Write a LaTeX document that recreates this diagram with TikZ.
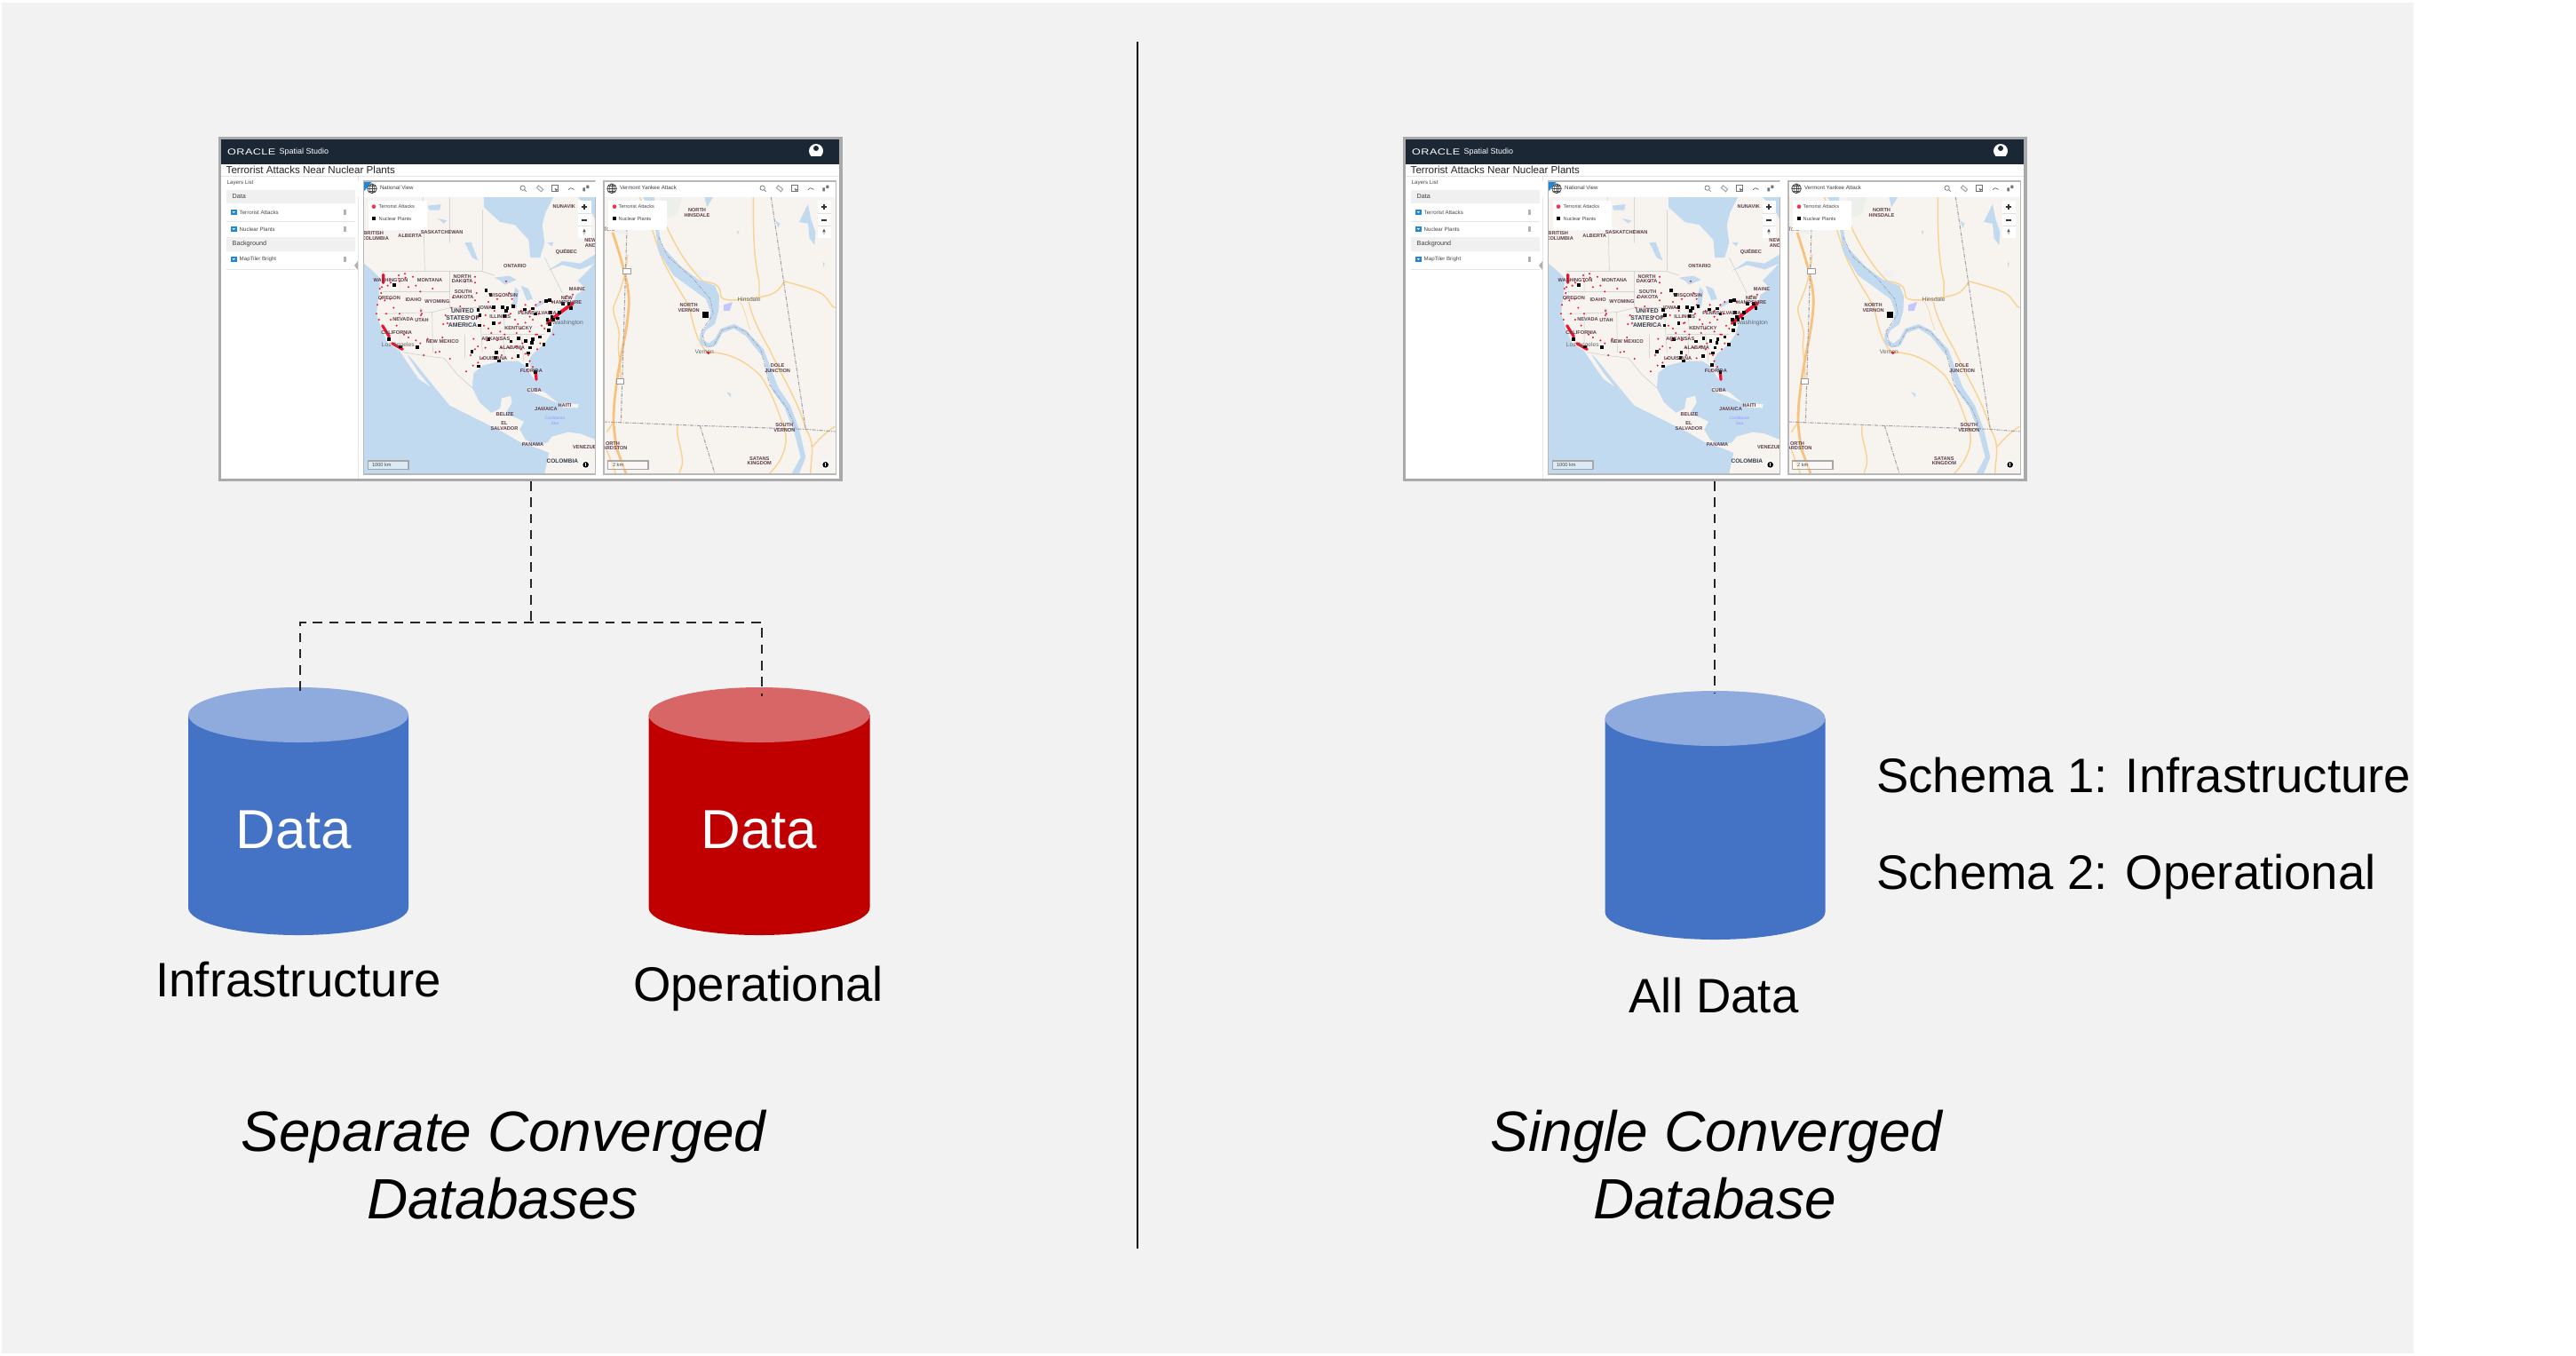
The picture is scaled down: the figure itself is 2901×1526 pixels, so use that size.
\documentclass[tikz,border=0pt]{standalone}
\usepackage{fontspec}
\setmainfont{Liberation Sans}
\newfontfamily\logofont[FakeStretch=1.3,LetterSpace=5]{Liberation Sans}
\definecolor{panelgray}{HTML}{F2F2F2}
\definecolor{dbblue}{HTML}{4472C4}
\definecolor{dbbluetop}{HTML}{8FAADC}
\definecolor{dbred}{HTML}{C00000}
\definecolor{dbredtop}{HTML}{D86666}
\definecolor{framegray}{HTML}{A9A9A9}
\definecolor{barnavy}{HTML}{1B2735}
\definecolor{water}{HTML}{C1DAF0}
\definecolor{land}{HTML}{F7F4EF}
\definecolor{maplbl}{HTML}{5C3B48}
\definecolor{maplblb}{HTML}{343B4E}
\definecolor{roadc}{HTML}{FAD394}
\definecolor{roadd}{HTML}{F8C27E}
\definecolor{borderc}{HTML}{A6A0AE}
\definecolor{dotred}{HTML}{F01030}
\definecolor{uiblue}{HTML}{1E88D8}
\newcounter{autolbl}
\newcommand{\ml}[4][maplabel]{\stepcounter{autolbl}\node[#1] (lbl\theautolbl) at (#2,#3) {#4};}
\newcommand{\uitext}[4][uilabel]{\stepcounter{autolbl}\node[#1,anchor=west] (lbl\theautolbl) at (#2,#3) {#4};}
\tikzset{
  x=0.01cm,y=-0.01cm,
  bigtext/.style={font=\fontsize{15.5}{18}\selectfont,text=black,inner sep=0pt,anchor=base},
  datatext/.style={font=\fontsize{17.6}{20}\selectfont,text=white,inner sep=0pt,anchor=base},
  captext/.style={font=\fontsize{18.2}{21}\selectfont\itshape,text=black,inner sep=0pt,anchor=base},
  conn/.style={draw=black!85,line width=0.65pt,dash pattern=on 3pt off 2.2pt},
  maplabel/.style={font=\fontsize{1.6}{1.9}\selectfont\bfseries,text=maplbl,inner sep=0pt},
  bigmaplabel/.style={font=\fontsize{1.95}{2.3}\selectfont\bfseries,text=maplblb,inner sep=0pt,align=center},
  citylabel/.style={font=\fontsize{1.9}{2.2}\selectfont,text=black!60,inner sep=0pt},
  seamap/.style={font=\fontsize{1.4}{1.8}\selectfont,text=white!60!blue,inner sep=0pt,align=center},
  uilabel/.style={font=\fontsize{1.6}{1.9}\selectfont,text=black!72,inner sep=0pt},
  uisidebar/.style={font=\fontsize{1.75}{2.1}\selectfont,text=black!72,inner sep=0pt},
  uititle/.style={font=\fontsize{1.75}{2.1}\selectfont,text=black!75,inner sep=0pt},
  uihead/.style={font=\fontsize{2.05}{2.5}\selectfont,text=black!75,inner sep=0pt},
  thinroad/.style={draw=roadc,line width=0.42pt},
  mainroad/.style={draw=roadd,line width=0.8pt},
  stateline/.style={draw=black!22,line width=0.14pt},
  bline/.style={draw=borderc,line width=0.3pt,dash pattern=on 1.2pt off .4pt on .3pt off .4pt},
}
% cylinder: centre x, top y, bottom y, half width, half height, body, lid
\newcommand{\dbcyl}[7]{
  \fill[#6] (#1-#4,#2+#5) -- (#1-#4,#3-#5) arc[start angle=180,end angle=360,x radius=#4,y radius=-#5] -- (#1+#4,#2+#5) -- cycle;
  \fill[#7] (#1,#2+#5) ellipse[x radius=#4,y radius=#5];
}
% small globe, tool icons and zoom controls shared by both map panes (pane coordinates)
\newcommand{\mapchrome}[2]{
  \fill[white] (0,42) rectangle (812,95);
  \fill[white] (44,108) rectangle (244,206);
  \draw[black!70,line width=.22pt] (57,67) circle[radius=16];
  \draw[black!70,line width=.14pt] (57,51) -- (57,83) (41,67) -- (73,67) (44,59) -- (70,59) (44,75) -- (70,75);
  \draw[black!70,line width=.14pt] (57,67) ellipse[x radius=8,y radius=16];
  \uitext[uititle]{82}{65}{#1}
  \draw[black!55,line width=.2pt] (566,65) circle[radius=8] (572,71) -- (578,77);
  \draw[black!35,line width=.3pt,rotate around={-40:(624,67)}] (614,62) rectangle (634,72);
  \draw[black!55,line width=.2pt] (664,56) rectangle (684,76);
  \fill[black!60] (674,66) -- (684,70) -- (678,76) -- cycle;
  \draw[black!60,line width=.2pt] (720,71) -- (728,65) -- (740,70);
  \fill[black!55] (769,64) rectangle (777,76) (781,56) rectangle (790,66);
  \fill[dotred!85!white] (#2,128) circle[radius=7];
  \uitext{78}{128}{Terrorist Attacks}
  \fill[black] (#2-6,162) rectangle (#2+6,174);
  \uitext{78}{168}{Nuclear Plants}
  \fill[white] (753,108) rectangle (797,235);
  \draw[black!12,line width=.12pt] (753,152) -- (797,152) (753,193) -- (797,193);
  \draw[black!80,line width=.5pt] (765,129) -- (783,129) (774,120) -- (774,138) (765,173) -- (783,173);
  \fill[black!70] (774,203) -- (779,214) -- (769,214) -- cycle;
  \fill[black!20] (774,225) -- (779,214) -- (769,214) -- cycle;
  \draw[black!35,fill=white,fill opacity=.45,line width=.35pt] (44,987) rectangle (180,1016);
  \fill[white] (779,1000) circle[radius=15];
  \fill[black] (779,1000) circle[radius=10];
  \fill[white] (777.5,994) rectangle (780.5,1006);
}
% national map
\newcommand{\nationalmap}{
  \begin{scope}[shift={(400,190)},scale=0.3333]
    \begin{scope}
      \clip (30,95) rectangle (810,1030);
      \fill[water] (30,95) rectangle (810,1030);
      \fill[land] (30,95) -- (810,95) -- (810,318) -- (780,350) -- (752,378) -- (778,405) -- (746,425) -- (735,460) -- (700,490) -- (672,520) -- (660,560) -- (640,590) -- (600,625) -- (585,650) -- (600,690) -- (612,716) -- (598,702) -- (575,665) -- (550,650) -- (490,650) -- (430,665) -- (400,690) -- (395,740) -- (420,790) -- (460,825) -- (490,810) -- (495,775) -- (525,768) -- (530,790) -- (505,830) -- (540,840) -- (570,855) -- (555,880) -- (575,915) -- (610,935) -- (650,925) -- (665,905) -- (720,890) -- (760,895) -- (810,915) -- (810,1030) -- (640,1030) -- (655,960) -- (620,945) -- (560,925) -- (500,890) -- (440,860) -- (370,825) -- (320,800) -- (270,740) -- (230,690) -- (190,640) -- (172,625) -- (215,690) -- (252,735) -- (215,710) -- (180,660) -- (150,615) -- (110,590) -- (90,545) -- (72,490) -- (80,430) -- (85,370) -- (60,345) -- (30,320) -- cycle;
      \fill[water] (435,95) -- (670,95) -- (642,150) -- (632,190) -- (640,250) -- (625,300) -- (592,300) -- (586,240) -- (540,190) -- (490,180) -- (435,130) -- cycle;
      \fill[water] (810,95) -- (750,95) -- (790,130) -- (810,170) -- cycle;
      \fill[water] (650,345) -- (700,325) -- (760,340) -- (810,320) -- (810,290) -- (760,320) -- (700,312) -- cycle;
      \fill[water] (370,250) -- (392,248) -- (415,310) -- (395,300) -- cycle;
      \fill[water] (245,125) -- (290,120) -- (285,140) -- (250,140) -- cycle;
      \fill[water] (278,168) -- (310,175) -- (300,185) -- cycle;
      \fill[water] (470,368) -- (520,362) -- (545,375) -- (505,392) -- (490,378) -- cycle;
      \fill[water] (540,400) -- (553,412) -- (545,470) -- (530,465) -- cycle;
      \fill[water] (560,395) -- (585,405) -- (600,440) -- (580,445) -- cycle;
      \fill[water] (605,460) -- (645,440) -- (650,448) -- (610,470) -- cycle;
      \fill[water] (650,250) -- (670,248) -- (665,262) -- cycle;
      \fill[water] (218,470) -- (228,475) -- (224,495) -- cycle;
      \fill[land] (580,738) -- (640,755) -- (685,792) -- (640,772) -- (590,752) -- cycle;
      \fill[land] (690,792) -- (755,795) -- (752,808) -- (700,806) -- cycle;
      \fill[land] (620,805) -- (650,808) -- (640,815) -- cycle;
      \draw[stateline] (90,347) -- (430,347) -- (470,360) (160,620) -- (235,632) -- (300,640) -- (345,695) -- (395,740);
      \draw[stateline] (92,415) -- (320,415) (320,347) -- (320,470) -- (260,485) -- (95,490) (150,490) -- (150,590) (260,485) -- (262,620) (370,560) -- (370,640) (320,470) -- (420,470) (400,540) -- (530,540) (420,470) -- (430,620) (430,560) -- (640,560) (500,470) -- (505,540) (500,560) -- (505,650) (560,560) -- (570,650) (150,350) -- (150,415) (430,140) -- (430,347) (230,95) -- (235,347) (320,95) -- (320,250) (640,300) -- (700,420);
      \draw[dotred,line width=.9pt,line cap=round] (95,358) -- (95,385) (92,530) -- (115,567) (125,590) -- (160,610) (610,690) -- (612,712);
      \draw[dotred,line width=1.1pt,line cap=round] (650,522) -- (690,488) -- (735,455);
      \foreach \p in {(83,405),(88,420),(85,440),(75,460),(72,490),(80,510),(90,400),(110,395),(120,385),(147,360),(168,355),(170,368),(195,365),(150,380),(180,400),(205,395),(220,415),(262,405),(100,445),(118,440),(130,470),(150,490),(105,490),(120,510),(140,530),(165,560),(180,570),(205,580),(220,590),(232,630),(272,620),(285,618),(320,642),(295,570),(245,575),(222,480),(222,495),(225,490),(330,435),(325,470),(305,495),(298,525),(312,522),(385,500),(355,465),(365,480),(405,365),(405,385),(372,380),(410,420),(405,445),(415,500),(450,450),(440,495),(490,430),(495,470),(480,440),(470,480),(490,520),(486,522),(435,530),(450,540),(462,470),(520,420),(510,380),(530,440),(525,490),(540,510),(550,525),(560,540),(575,520),(590,500),(575,460),(590,480),(620,490),(630,530),(615,560),(590,550),(545,555),(505,560),(490,550),(460,555),(445,580),(480,580),(400,575),(415,600),(405,610),(390,630),(440,605),(430,640),(415,655),(398,665),(375,685),(495,605),(520,605),(545,600),(565,590),(560,610),(575,625),(610,560),(640,540),(670,560),(665,450),(715,430),(735,425),(610,460),(625,450),(600,510),(560,480),(530,460),(495,630),(530,640),(590,650),(580,680),(600,670),(585,630),(625,590),(615,610)}
        {\fill[dotred] \p circle[radius=3.4];}
      \foreach \p in {(131,392),(443,411),(458,425),(416,477),(422,495),(421,529),(469,521),(469,467),(498,467),(515,470),(535,465),(510,480),(505,498),(452,575),(553,572),(577,582),(601,575),(527,583),(625,568),(638,594),(598,588),(592,605),(585,623),(551,634),(581,664),(610,688),(478,622),(395,618),(417,668),(486,650),(475,640),(113,575),(153,602),(210,603),(573,475),(600,472),(610,490),(645,447),(657,443),(660,485),(665,500),(658,525),(654,546),(685,505),(702,456),(730,470),(690,485),(722,455),(670,510),(650,510)}
        {\fill[black] \p ++(-5.5,-5.5) rectangle ++(11,11);}
      \ml{120}{378}{WASHINGTON}\ml{252}{377}{MONTANA}\ml{362}{364}{NORTH}\ml{362}{381}{DAKOTA}
      \ml{62}{218}{BRITISH}\ml{68}{236}{COLUMBIA}\ml{185}{227}{ALBERTA}\ml{293}{216}{SASKATCHEWAN}
      \ml{540}{328}{ONTARIO}\ml{714}{280}{QUÉBEC}\ml{706}{127}{NUNAVIK}
      \ml{365}{416}{SOUTH}\ml{365}{433}{DAKOTA}\ml{115}{437}{OREGON}\ml{197}{442}{IDAHO}\ml{277}{450}{WYOMING}
      \ml{162}{510}{NEVADA}\ml{225}{511}{UTAH}\ml{140}{554}{CALIFORNIA}\ml{295}{585}{NEW MEXICO}
      \ml{475}{575}{ARKANSAS}\ml{530}{605}{ALABAMA}\ml{467}{640}{LOUISIANA}\ml{552}{540}{KENTUCKY}
      \ml{490}{500}{ILLINOIS}\ml{500}{428}{WISCONSIN}\ml{440}{470}{IOWA}\ml{615}{487}{PENNSYLVANIA}
      \ml{750}{406}{MAINE}\ml{715}{437}{NEW}\ml{715}{453}{HAMPSHIRE}\ml{595}{683}{FLORIDA}
      \ml{605}{748}{CUBA}\ml{645}{812}{JAMAICA}\ml{708}{800}{HAITI}\ml{506}{829}{BELIZE}\ml{504}{859}{EL}\ml{504}{877}{SALVADOR}\ml{600}{933}{PANAMA}\ml{775}{940}{VENEZUE}
      \ml{795}{243}{NEW}\ml{795}{260}{AND}
      \ml[seamap]{675}{852}{Caribbean\\Sea}
      \ml[bigmaplabel]{363}{505}{UNITED\\STATES OF\\AMERICA}
      \ml[citylabel]{145}{595}{Los Angeles}\ml[citylabel]{718}{521}{Washington}
      \ml[font=\fontsize{1.85}{2.2}\selectfont\bfseries,text=maplblb,inner sep=0pt]{700}{988}{COLOMBIA}
    \end{scope}
    \mapchrome{National View}{63}
    \uitext[uilabel]{55}{1000}{1000 km}
    \fill[uiblue] (28,42) -- (58,42) -- (32,74) -- (28,74) -- cycle;
    \draw[black!28,line width=.35pt] (28,42) rectangle (812,1032);
  \end{scope}
}
% Vermont map
\newcommand{\vermontmap}{
  \begin{scope}[shift={(670,190)},scale=0.3333]
    \begin{scope}
      \clip (30,95) rectangle (812,1030);
      \fill[land] (30,95) rectangle (812,1030);
      \fill[green!25!black!8] (225,95) -- (295,95) -- (280,150) -- (250,165) -- (225,130) -- cycle;
      \fill[green!25!black!8] (50,195) -- (110,190) -- (100,220) -- (70,215) -- cycle;
      \fill[blue!40!black!8,opacity=.4] (340,345) -- (385,340) -- (385,365) -- (345,365) -- cycle;
      \fill[blue!30!white!75] (435,460) -- (465,450) -- (455,480) -- (435,480) -- cycle;
      % roads
      \draw[thinroad] (40,890) -- (60,860) (110,290) .. controls (100,400) and (70,440) .. (62,470) .. controls (60,500) and (90,540) .. (80,580) .. controls (75,620) and (90,660) .. (85,720);
      \draw[thinroad] (150,95) .. controls (190,170) and (210,280) .. (240,330) .. controls (270,390) and (300,430) .. (320,470) .. controls (330,520) and (345,590) .. (380,620);
      \draw[thinroad] (240,190) .. controls (270,260) and (320,340) .. (365,380) .. controls (400,385) and (425,390) .. (425,430) .. controls (430,450) and (480,445) .. (555,435) .. controls (580,425) and (610,435) .. (640,380) .. controls (690,395) and (740,405) .. (770,425) .. controls (790,440) and (800,470) .. (812,470);
      \draw[thinroad] (535,95) .. controls (535,200) and (535,300) .. (555,380) -- (555,435);
      \draw[thinroad] (520,450) .. controls (530,500) and (560,560) .. (590,610) .. controls (630,700) and (690,790) .. (712,880) .. controls (740,920) and (735,960) .. (730,1000) -- (728,1030);
      \draw[thinroad] (380,620) .. controls (440,620) and (500,640) .. (560,700) .. controls (600,760) and (620,820) .. (640,880) .. controls (655,920) and (640,980) .. (590,1030);
      \draw[thinroad] (280,868) .. controls (270,900) and (300,960) .. (295,1000) -- (285,1030);
      \draw[thinroad] (735,940) .. controls (750,920) and (780,890) .. (812,870);
      \draw[mainroad] (60,215) .. controls (80,280) and (115,380) .. (115,450) .. controls (110,560) and (85,620) .. (70,750) .. controls (60,830) and (60,870) .. (75,950) -- (105,1030);
      \draw[thinroad] (40,950) -- (70,1030);
      % river
      \fill[water] (160,95) -- (200,95) -- (215,200) -- (225,260) -- (290,330) -- (350,375) -- (405,395) -- (420,430) -- (418,480) -- (405,525) -- (375,545) -- (362,575) -- (385,590) -- (405,575) -- (425,540) -- (470,525) -- (510,545) -- (570,610) -- (600,690) -- (620,740) -- (660,800) -- (690,880) -- (712,975) -- (690,1030) -- (665,1030) -- (695,975) -- (672,885) -- (640,805) -- (600,750) -- (585,700) -- (570,640) -- (510,565) -- (470,540) -- (430,555) -- (410,595) -- (380,605) -- (355,590) -- (355,560) -- (385,520) -- (390,480) -- (375,440) -- (320,400) -- (265,360) -- (215,280) -- (205,210) -- (180,120) -- cycle;
      \draw[bline,line width=.2pt] (215,230) -- (245,295) -- (330,370) -- (390,440) -- (400,490) -- (360,550) -- (375,600) -- (400,600) -- (430,545) -- (470,533) -- (510,550) -- (560,610) -- (590,730) -- (650,810) -- (680,880);
      \draw[thinroad,line width=.2pt] (490,450) .. controls (510,480) and (510,510) .. (525,545);
      \fill[water] (720,120) -- (730,170) -- (745,215) -- (742,258) -- (725,235) -- (720,185) -- (690,180) -- cycle;
      \fill[water] (610,175) -- (625,185) -- (620,200) -- cycle;
      \fill[water] (445,755) -- (460,760) -- (458,772) -- cycle;
      \fill[water] (770,315) -- (776,318) -- (773,335) -- cycle;
      \fill[water] (480,210) -- (488,212) -- (482,222) -- cycle;
      \fill[water] (370,95) -- (400,95) -- (378,130) -- cycle;
      % borders
      \draw[bline] (108,200) -- (88,855) (30,855) -- (350,868) -- (712,880) -- (812,888) (595,95) -- (712,880) (355,868) -- (405,1030);
      % shields
      \draw[black!40,fill=white,line width=.2pt] (95,338) rectangle (120,355) (72,710) rectangle (96,728);
      \ml{345}{141}{NORTH}\ml{345}{158}{HINSDALE}\ml{317}{461}{NORTH}\ml{317}{478}{VERNON}
      \ml{617}{666}{DOLE}\ml{617}{684}{JUNCTION}\ml{640}{867}{SOUTH}\ml{640}{885}{VERNON}
      \ml{556}{979}{SATANS}\ml{556}{996}{KINGDOM}\ml{60}{928}{ORTH}\ml{68}{945}{ARDSTON}
      \ml[citylabel]{521}{440}{Hinsdale}\ml[citylabel]{370}{620}{Vernon}\ml[citylabel]{50}{205}{ford}
      \fill[black] (364,483) rectangle (384,503);
      \fill[dotred] (383,622) circle[radius=5.5];
    \end{scope}
    \mapchrome{Vermont Yankee Attack}{66}
    \uitext[uilabel]{58}{1000}{2 km}
    \draw[black!28,line width=.35pt] (30,42) rectangle (815,1032);
  \end{scope}
}
\newcommand{\studioshot}[1]{
  \begin{scope}[shift={(#1,0)}]
    \fill[framegray] (246,154) rectangle (948.5,542);
    \fill[white] (249,157) rectangle (945,539);
    \fill[barnavy] (249,157) rectangle (945,185);
    \uitext[font=\logofont\fontsize{2.75}{3}\selectfont,text=white,inner sep=0pt]{255.5}{171}{ORACLE}
    \uitext[font=\fontsize{2.55}{3}\selectfont,text=white!75,inner sep=0pt]{314}{171}{Spatial Studio}
    \fill[white] (919,170) circle[radius=8];
    \fill[barnavy] (919,167) circle[radius=3];
    \fill[barnavy] (913,176) arc[start angle=180,end angle=360,x radius=6,y radius=-4] -- cycle;
    \uitext[font=\fontsize{3.3}{4}\selectfont,text=black!85,inner sep=0pt]{254}{191}{Terrorist Attacks Near Nuclear Plants}
    \draw[black!10,line width=.25pt] (249,198) -- (945,198) (403,198) -- (403,539);
    \uitext[uisidebar]{255}{206}{Layers List}
    \fill[black!6] (255,214) rectangle (400,229) (255,267) rectangle (400,283);
    \uitext[uihead]{261}{221.5}{Data}
    \uitext[uihead]{261}{275}{Background}
    \draw[black!10,line width=.2pt] (255,249) -- (400,249) (255,303) -- (400,303);
    \foreach \yy in {239,258,292}{
      \fill[uiblue] (260,\yy-3.2) rectangle (266.5,\yy+3.2);
      \fill[white] (261.5,\yy-1) -- (265,\yy-1) -- (263.2,\yy+1) -- cycle;
      \fill[black!30] (387,\yy-3) rectangle (389.5,\yy+3);
    }
    \uitext[uisidebar]{269}{239}{Terrorist Attacks}
    \uitext[uisidebar]{269}{258}{Nuclear Plants}
    \uitext[uisidebar]{269}{292}{MapTiler Bright}
    \fill[black!30] (403,294) -- (403,304) -- (399,299) -- cycle;
    \nationalmap
    \vermontmap
  \end{scope}
}
\begin{document}
\begin{tikzpicture}
\useasboundingbox (0,0) rectangle (2901,1526);
\fill[white] (0,0) rectangle (2901,1526);
\fill[panelgray] (2,3) rectangle (2718,1524);
\draw[black,line width=.65pt] (1281,47) -- (1281,1406);

\studioshot{0}
\studioshot{1334}
\coordinate (shotA) at (598,542);
\coordinate (shotB) at (1931,542);
\coordinate (busC) at (598,701);
\coordinate (busL) at (338,701);
\coordinate (busR) at (858,701);
\coordinate (infraTop) at (338,778);
\coordinate (operTop) at (858,784);
\coordinate (allTop) at (1931,780);

\dbcyl{336}{774}{1053}{124}{31}{dbblue}{dbbluetop}
\dbcyl{855}{774}{1053}{124.5}{31}{dbred}{dbredtop}
\dbcyl{1931.5}{778}{1058}{124}{31}{dbblue}{dbbluetop}

\draw[conn] (shotA) -- (busC);
\draw[conn] (infraTop) -- (busL) -- (busR) -- (operTop);
\draw[conn] (shotB) -- (allTop);

\node[datatext] (data1) at (331,955.5) {Data};
\node[datatext] (data2) at (855,955.5) {Data};
\node[bigtext] (infra) at (336,1122.5) {Infrastructure};
\node[bigtext] (oper) at (854,1127) {Operational};
\node[bigtext] (alldata) at (1930,1140) {All Data};
\node[bigtext,anchor=base west] (schema1) at (2112.5,892.5) {Schema 1: Infrastructure};
\node[bigtext,anchor=base west] (schema2) at (2112.5,1001) {Schema 2: Operational};
\node[captext] (capA1) at (567,1296) {Separate Converged};
\node[captext] (capA2) at (566,1372.5) {Databases};
\node[captext] (capB1) at (1933,1296) {Single Converged};
\node[captext] (capB2) at (1931,1372.5) {Database};
\end{tikzpicture}
\end{document}
